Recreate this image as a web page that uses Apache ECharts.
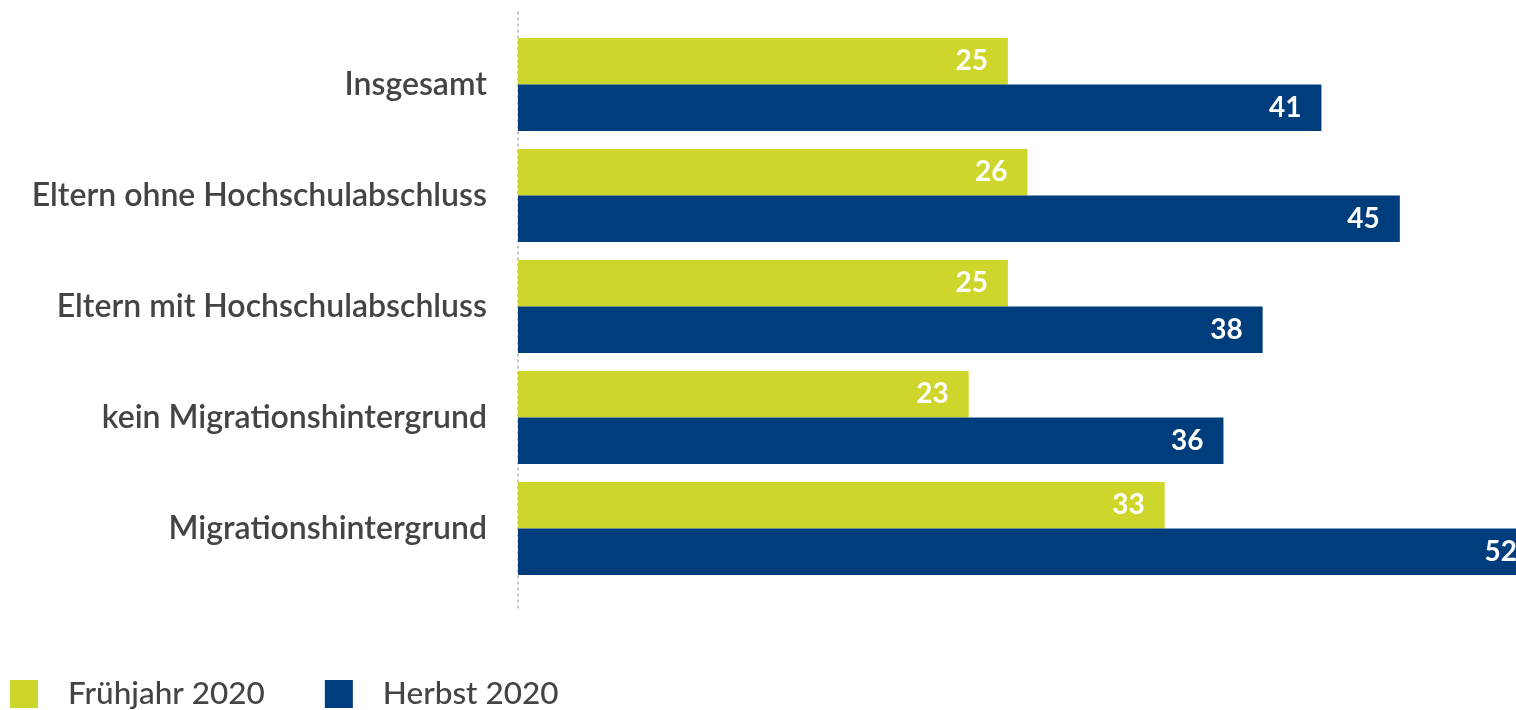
<!DOCTYPE html>
<html>
<head>
<meta charset="utf-8">
<script src="https://cdn.jsdelivr.net/npm/echarts@6/dist/echarts.min.js"></script>
<style>
  html, body { margin: 0; padding: 0; background: #fff; }
  #chart { width: 1516px; height: 710px; }
</style>
</head>
<body>
<div id="chart"></div>
<script>
// Gruppen (von oben nach unten)
const categories = [
  'Insgesamt',
  'Eltern ohne Hochschulabschluss',
  'Eltern mit Hochschulabschluss',
  'kein Migrationshintergrund',
  'Migrationshintergrund'
];
const seriesNames = ['Frühjahr 2020', 'Herbst 2020'];
const fruehjahr = [25, 26, 25, 23, 33];
const herbst = [41, 45, 38, 36, 52];

const GREEN = '#cfd62b';
const BLUE = '#003d7c';
const FONT = 'Lato, "Open Sans", sans-serif';

const chart = echarts.init(document.getElementById('chart'), null, { renderer: 'canvas' });

const barLabel = {
  show: true,
  position: 'insideRight',
  distance: 20,
  color: '#ffffff',
  fontFamily: FONT,
  fontWeight: 'bold',
  fontSize: 28
};

chart.setOption({
  animation: false,
  backgroundColor: '#ffffff',
  grid: [
    // the value range runs slightly past the right edge of the canvas
    { left: 518, width: 1019, top: 29, height: 555, outerBoundsMode: 'none', containLabel: false },
    // separate grid only carrying the dotted baseline
    { left: 518, width: 10, top: 8, height: 600, outerBoundsMode: 'none' }
  ],
  xAxis: [
    { type: 'value', gridIndex: 0, min: 0, max: 52, show: false },
    { type: 'value', gridIndex: 1, min: 0, max: 1, show: false }
  ],
  yAxis: [
    {
      type: 'category',
      gridIndex: 0,
      data: categories,
      inverse: true,
      axisLine: { show: false },
      axisTick: { show: false },
      axisLabel: {
        margin: 31,
        color: '#444444',
        fontFamily: FONT,
        fontWeight: 600,
        fontSize: 32
      }
    },
    {
      type: 'value',
      gridIndex: 1,
      min: 0,
      max: 1,
      axisLine: { show: true, lineStyle: { color: '#b5b5b5', width: 1.5, type: [2, 4] } },
      axisTick: { show: false },
      axisLabel: { show: false },
      splitLine: { show: false }
    }
  ],
  legend: {
    left: 10,
    top: 678,
    padding: 0,
    icon: 'rect',
    itemWidth: 28,
    itemHeight: 28,
    itemGap: 60,
    data: seriesNames,
    textStyle: {
      color: '#444444',
      fontFamily: FONT,
      fontWeight: 500,
      fontSize: 31.5,
      lineHeight: 28,
      padding: [0, 0, 0, 25]
    }
  },
  series: [
    {
      name: seriesNames[0],
      type: 'bar',
      data: fruehjahr,
      itemStyle: { color: GREEN },
      barCategoryGap: '16%',
      barGap: '0%',
      label: barLabel
    },
    {
      name: seriesNames[1],
      type: 'bar',
      data: herbst,
      itemStyle: { color: BLUE },
      barCategoryGap: '16%',
      barGap: '0%',
      label: barLabel
    }
  ]
});
</script>
</body>
</html>
